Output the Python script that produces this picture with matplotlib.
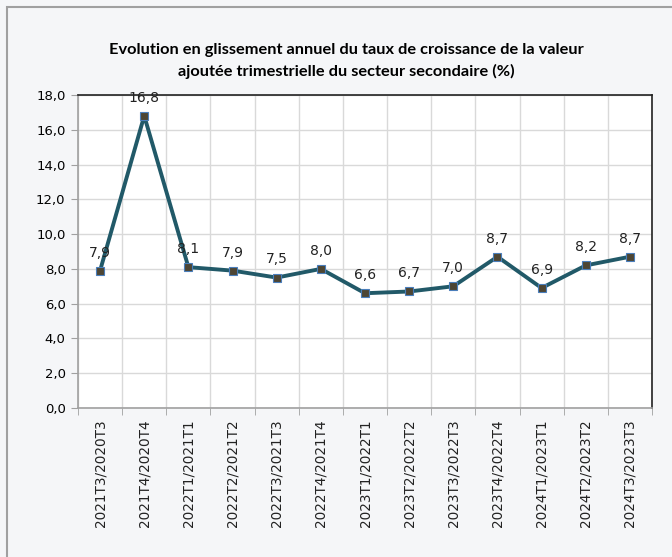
import numpy as np
import matplotlib.pyplot as plt
from matplotlib.patches import Rectangle

periods = ['2021T3/2020T3', '2021T4/2020T4', '2022T1/2021T1', '2022T2/2021T2',
           '2022T3/2021T3', '2022T4/2021T4', '2023T1/2022T1', '2023T2/2022T2',
           '2023T3/2022T3', '2023T4/2022T4', '2024T1/2023T1', '2024T2/2023T2',
           '2024T3/2023T3']
growth = [7.9, 16.8, 8.1, 7.9, 7.5, 8.0, 6.6, 6.7, 7.0, 8.7, 6.9, 8.2, 8.7]

W, H = 672, 557
fig = plt.figure(figsize=(W / 100, H / 100), dpi=100)
fig.patch.set_facecolor('#f5f6f8')

# outer frame of the chart area
fig.patches.append(Rectangle((7 / W, -0.1), 1.1, 1 - 7 / H + 0.1, transform=fig.transFigure,
                             fill=False, edgecolor='#a0a0a0', linewidth=1.5))

ax = fig.add_axes([78 / W, 1 - 408 / H, (652 - 78) / W, (408 - 95) / H])
ax.set_facecolor('white')

x = np.arange(len(periods))
ax.plot(x, growth, color='#215968', linewidth=2.8, marker='s', markersize=5.5,
        markerfacecolor='#4d4533', markeredgecolor='#4a7ebb', markeredgewidth=0.8, zorder=3)

for xi, v in zip(x, growth):
    ax.annotate(f'{v:.1f}'.replace('.', ','), (xi, v), xytext=(0, 8), textcoords='offset points',
                ha='center', va='bottom', fontsize=10, color='#222222')

ax.set_xlim(-0.5, len(periods) - 0.5)
ax.set_ylim(0, 18)
ax.set_yticks(np.arange(0, 18.1, 2))
ax.set_yticklabels([f'{t:.1f}'.replace('.', ',') for t in np.arange(0, 18.1, 2)], fontsize=9.5)
ax.set_xticks(x)
ax.set_xticklabels(periods, rotation=90, fontsize=9.8, color='#222222')
ax.tick_params(axis='x', length=0, pad=8)
ax.set_xticks(np.arange(-0.5, len(periods), 1), minor=True)
ax.tick_params(axis='x', which='minor', length=5, color='#a0a0a0')
ax.tick_params(axis='y', length=5, color='#a0a0a0', pad=4)

ax.grid(axis='y', color='#d9d9d9', linewidth=1)
ax.grid(axis='x', which='minor', color='#d9d9d9', linewidth=1)
ax.set_axisbelow(True)

ax.spines['left'].set_color('#a0a0a0')
ax.spines['bottom'].set_color('#a0a0a0')
ax.spines['top'].set_color('#222222')
ax.spines['right'].set_color('#222222')
for s in ax.spines.values():
    s.set_linewidth(1.2)

fig.text(346 / W, 1 - 61 / H,
         'Evolution en glissement annuel du taux de croissance de la valeur\najoutée trimestrielle du secteur secondaire (%)',
         ha='center', va='center', fontsize=11.8, fontweight='bold', linespacing=1.65,
         fontfamily='Lato')

fig.savefig('out.png', dpi=100, facecolor=fig.get_facecolor())
